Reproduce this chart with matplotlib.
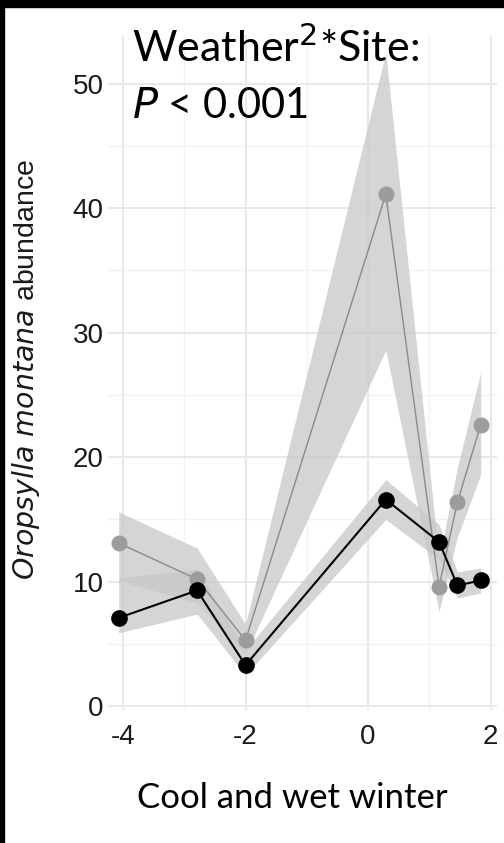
import matplotlib
matplotlib.use("Agg")
import matplotlib.pyplot as plt
from matplotlib.patches import Rectangle

plt.rcParams["axes.unicode_minus"] = False

# cool and wet winter index (shared by both sites)
winter = [-4.07, -2.79, -2.0, 0.29, 1.16, 1.46, 1.84]

# site with the big peak (grey)
grey_mean = [13.1, 10.2, 5.3, 41.1, 9.6, 16.4, 22.6]
grey_lo = [10.1, 8.3, 4.2, 28.6, 7.6, 13.6, 18.6]
grey_hi = [15.6, 12.7, 6.6, 52.5, 11.8, 19.2, 26.8]

# other site (black)
black_mean = [7.1, 9.3, 3.3, 16.6, 13.2, 9.7, 10.1]
black_lo = [5.9, 7.4, 2.5, 15.0, 11.8, 8.7, 9.1]
black_hi = [10.3, 11.0, 4.5, 18.2, 14.6, 10.8, 11.1]

yticks = [0, 10, 20, 30, 40, 50]
xticks = [-4, -2, 0, 2]

fig = plt.figure(figsize=(5.04, 8.43), dpi=100)
ax = fig.add_axes([108/504, (843-710)/843, (497-108)/504, (710-35)/843])

ax.set_xlim(-4.245, 2.106)
ax.set_ylim(-0.3, 53.9)

# ggplot-ish minimal grid
for v in [5, 15, 25, 35, 45]:
    ax.axhline(v, color="#f2f2f2", lw=1.0, zorder=0)
for v in [-3, -1, 1]:
    ax.axvline(v, color="#f2f2f2", lw=1.0, zorder=0)
for v in yticks:
    ax.axhline(v, color="#e8e8e8", lw=1.4, zorder=0)
for v in xticks:
    ax.axvline(v, color="#e8e8e8", lw=1.4, zorder=0)

ax.fill_between(winter, grey_lo, grey_hi, color="#c8c8c8", alpha=0.75, lw=0, zorder=1)
ax.fill_between(winter, black_lo, black_hi, color="#c8c8c8", alpha=0.75, lw=0, zorder=1)

ax.plot(winter, grey_mean, color="#8a8a8a", lw=1.0, zorder=2)
ax.plot(winter, grey_mean, "o", color="#9c9c9c", ms=11.5, mec="none", zorder=3)
ax.plot(winter, black_mean, color="black", lw=1.5, zorder=4)
ax.plot(winter, black_mean, "o", color="black", ms=12, mec="none", zorder=5)

for s in ax.spines.values():
    s.set_visible(False)
ax.set_yticks(yticks)
ax.set_xticks(xticks)
ax.tick_params(length=0, labelsize=20, labelcolor="#1a1a1a", pad=3,
               labelfontfamily="Liberation Sans")
ax.tick_params(axis="x", pad=10)

ax.set_ylabel(r"$\it{Oropsylla\ montana}$ abundance", fontsize=20.5,
              family="Liberation Sans", color="#1a1a1a")
ax.yaxis.set_label_coords(-0.17, 0.505)
ax.set_xlabel("Cool and wet winter", fontsize=25, family="Lato")
ax.xaxis.set_label_coords(0.475, -0.107)

fig.text(132/504, 1 - 62/843, "Weather$^2$*Site:", fontsize=31, family="Lato")
fig.text(132/504, 1 - 118/843, "$\\it{P}$ < 0.001", fontsize=30, family="Lato")

# black frame strips on the left and top of the original crop
fig.patches.append(Rectangle((0, 0), 4/504, 1, transform=fig.transFigure,
                             color="black", zorder=10))
fig.patches.append(Rectangle((0, 1 - 7/843), 1, 7/843, transform=fig.transFigure,
                             color="black", zorder=10))

fig.savefig("out.png", dpi=100)
